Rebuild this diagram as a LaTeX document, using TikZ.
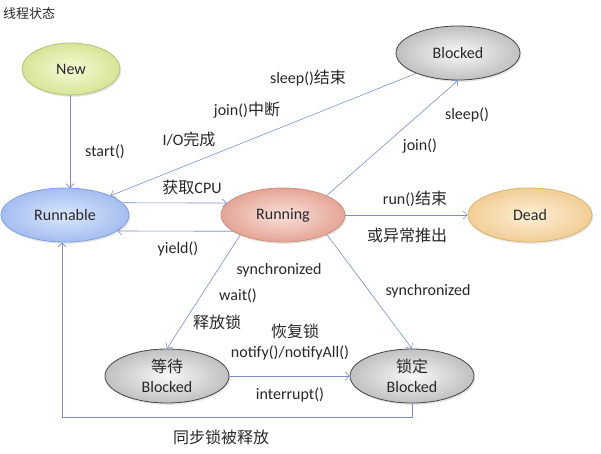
\documentclass[tikz,border=0pt]{standalone}
\usepackage{fontspec}
\setmainfont{Carlito}
\newfontfamily\cjk{Noto Sans CJK SC}
\newcommand\zh[1]{{\cjk #1}}
\usetikzlibrary{shapes.geometric,arrows.meta,shadows}
\definecolor{linec}{RGB}{125,140,198}
\definecolor{txt}{RGB}{40,40,40}
\tikzset{
  state/.style={ellipse,draw,line width=0.8pt,inner sep=0pt,minimum width=124pt,minimum height=54pt,
    align=center,font=\fontsize{16}{20}\selectfont,text=txt,
    drop shadow={shadow xshift=1.2pt,shadow yshift=-1.8pt,opacity=0.2}},
  newst/.style={state,draw={rgb,255:red,180;green,195;blue,120},inner color={rgb,255:red,246;green,250;blue,215},outer color={rgb,255:red,215;green,228;blue,150},minimum width=98pt,minimum height=52pt},
  blk/.style={state,draw={rgb,255:red,70;green,70;blue,70},inner color={rgb,255:red,248;green,248;blue,248},outer color={rgb,255:red,192;green,192;blue,192}},
  rbl/.style={state,draw={rgb,255:red,130;green,160;blue,220},inner color={rgb,255:red,218;green,230;blue,252},outer color={rgb,255:red,165;green,190;blue,240},minimum width=128pt},
  rng/.style={state,draw={rgb,255:red,205;green,145;blue,130},inner color={rgb,255:red,250;green,225;blue,218},outer color={rgb,255:red,228;green,165;blue,150}},
  ded/.style={state,draw={rgb,255:red,218;green,178;blue,112},inner color={rgb,255:red,253;green,240;blue,214},outer color={rgb,255:red,242;green,205;blue,150}},
  arr/.style={draw=linec,line width=0.6pt,-{Straight Barb[length=4pt,width=8pt]}},
  lbl/.style={font=\fontsize{16}{18}\selectfont,text=txt,inner sep=0pt}
}
\begin{document}
\begin{tikzpicture}[x=1pt,y=-1pt]
\fill[white] (0,0) rectangle (601,453);
\path[use as bounding box] (0,0) rectangle (601,453);

\node[lbl,anchor=west,font=\fontsize{13}{14}\selectfont] (title) at (3,14) {\zh{线程状态}};

\node[newst] (New) at (71,69) {New};
\node[blk] (Blocked) at (458,53) {Blocked};
\node[rbl] (Runnable) at (65,215) {Runnable};
\node[rng] (Running) at (283,215) {Running};
\node[ded] (Dead) at (530,215) {Dead};
\node[blk] (Wait) at (167,376) {\zh{等待}\\Blocked};
\node[blk] (Lock) at (412,376) {\zh{锁定}\\Blocked};

\coordinate (c1) at (62,417);

\draw[arr] (New.south -| 70,0) -- (70,188);
\draw[arr] (Blocked.206) -- (Runnable.23);
\draw[arr] (Running.24) -- (Blocked.south);
\draw[arr] (Runnable.12) -- (Running.168);
\draw[arr] (Running.198) -- (Runnable.343);
\draw[arr] (Running.east) -- (Dead.west);
\draw[arr] (Running.205) -- (Wait.north);
\draw[arr] (Running.336) -- (Lock.north);
\draw[arr] (Wait.east) -- (Lock.west);
\draw[arr] (Lock.south) |- (c1) -- (c1 |- Runnable.south);

\node[lbl] (l1) at (105,152) {start()};
\node[lbl] (l2) at (189,139) {I/O\zh{完成}};
\node[lbl] (l3) at (247,110) {join()\zh{中断}};
\node[lbl] (l4) at (308,78) {sleep()\zh{结束}};
\node[lbl] (l5) at (467,115) {sleep()};
\node[lbl] (l6) at (420,146) {join()};
\node[lbl] (l7) at (192,187) {\zh{获取}CPU};
\node[lbl] (l8) at (178,249) {yield()};
\node[lbl] (l9) at (415,199) {run()\zh{结束}};
\node[lbl] (l10) at (407,235) {\zh{或异常推出}};
\node[lbl] (l11) at (279,270) {synchronized};
\node[lbl] (l12) at (238,296) {wait()};
\node[lbl] (l13) at (217,322) {\zh{释放锁}};
\node[lbl] (l14) at (428,291) {synchronized};
\node[lbl] (l15) at (295,331) {\zh{恢复锁}};
\node[lbl] (l16) at (290,353) {notify()/notifyAll()};
\node[lbl] (l17) at (290,395) {interrupt()};
\node[lbl] (l18) at (221,437) {\zh{同步锁被释放}};
\end{tikzpicture}
\end{document}
